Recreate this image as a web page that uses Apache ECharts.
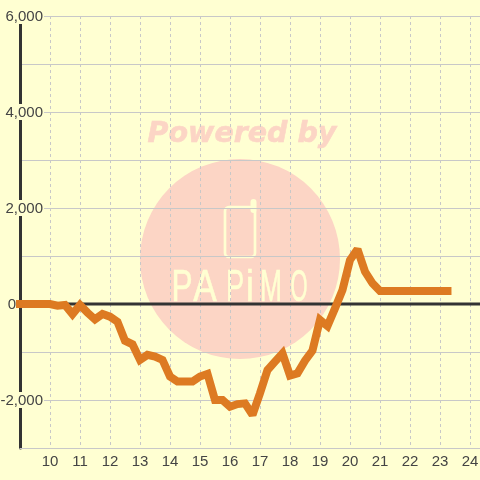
<!DOCTYPE html>
<html><head><meta charset="utf-8">
<style>html,body{margin:0;padding:0;background:#ffffd2}#c{width:480px;height:480px}</style>
<script src="https://cdn.jsdelivr.net/npm/echarts@6/dist/echarts.min.js"></script>
</head><body><div id="c"></div>
<script>
const hours = [9,9.25,9.5,9.75,10,10.25,10.5,10.75,11,11.25,11.5,11.75,12,12.25,12.5,12.75,13,13.25,13.5,13.75,14,14.25,14.5,14.75,15,15.25,15.5,15.75,16,16.25,16.5,16.75,17,17.25,17.5,17.75,18,18.25,18.5,18.75,19,19.25,19.5,19.75,20,20.25,20.5,20.75,21,21.25,21.5,21.75,22,22.25,22.5,22.75,23,23.25];
const values = [0,0,0,0,0,-35,-20,-210,-20,-180,-320,-210,-265,-370,-765,-840,-1165,-1060,-1095,-1165,-1510,-1615,-1615,-1615,-1510,-1455,-2000,-2000,-2140,-2085,-2070,-2310,-1860,-1375,-1200,-1030,-1490,-1445,-1180,-970,-330,-460,-90,290,915,1140,675,430,270,270,270,270,270,270,270,270,270,270];
const zeroLine = [[9,0],[24.334,0]];
const wmTitle = 'Powered by';
const wmLetters = ['P','A','P','i','M','O'];
const wmLayout = [[182,0.72],[205,0.8],[235,0.62],[250,0.8],[271,0.6],[299,0.5]];
const pink = '#fcd5c5', bg = '#ffffd2', grey = '#c8c8c8', dark = '#333333';

const graphic = [
  {type:'circle',z:-10,shape:{cx:240,cy:259,r:100},style:{fill:pink}},
  {type:'text',z:-9,x:242,y:135,style:{text:wmTitle,fill:pink,stroke:pink,lineWidth:0.6,font:'italic bold 28.5px "DejaVu Sans"',align:'center',verticalAlign:'middle'}},
  {type:'rect',z:-9,shape:{x:225,y:207,width:30,height:50,r:4},style:{fill:'none',stroke:bg,lineWidth:2.7}},
  {type:'line',z:-9,shape:{x1:253.5,y1:202,x2:253.5,y2:210},style:{stroke:bg,lineWidth:6,lineCap:'round'}}
].concat(wmLetters.map((t,i)=>({type:'text',z:-9,x:wmLayout[i][0],y:289,scaleX:wmLayout[i][1],
  style:{text:t,fill:bg,stroke:bg,lineWidth:0.6,font:'44px "Liberation Sans"',align:'center',verticalAlign:'middle'}})));

const chart = echarts.init(document.getElementById('c'),null,{renderer:'canvas'});
chart.setOption({
  animation:false,
  backgroundColor:bg,
  graphic:graphic,
  grid:{left:20,right:0,top:16,bottom:32,containLabel:false,outerBoundsMode:'none'},
  xAxis:{type:'value',min:9,max:24.334,interval:1,
    axisLine:{show:true,onZero:false,lineStyle:{color:grey,width:1}},
    axisTick:{show:false},
    axisLabel:{color:'#444',fontSize:15,fontFamily:'Liberation Sans',margin:6,showMinLabel:false,showMaxLabel:false,
      formatter:v=>String(v)},
    splitLine:{show:true,lineStyle:{color:grey,width:1,type:[3,3]}}},
  yAxis:{type:'value',min:-3000,max:6000,interval:1000,
    axisLine:{show:true,onZero:false,lineStyle:{color:dark,width:3}},
    axisTick:{show:false},
    axisLabel:{margin:-24,fontSize:15,fontFamily:'Liberation Sans',color:'#444',showMinLabel:false,
      formatter:v=>{
        if(v%2000!==0) return '';
        if(v===0) return '{z|0}';
        return '{a|'+v.toLocaleString('en-US')+'}';
      },
      rich:{
        a:{backgroundColor:bg,color:'#444',fontSize:15,fontFamily:'Liberation Sans',padding:[2,1,0,1],height:14},
        z:{color:'#444',fontSize:15,fontFamily:'Liberation Sans',padding:[2,28,0,0]}
      }},
    splitLine:{show:true,lineStyle:{color:grey,width:1}}},
  series:[
    {type:'line',data:zeroLine,symbol:'none',silent:true,z:2,lineStyle:{color:dark,width:3}},
    {type:'line',data:hours.map((h,i)=>[h,values[i]]),symbol:'none',z:3,
      lineStyle:{color:'#dd7a22',width:8,cap:'square',join:'miter',miterLimit:2}}
  ]
});
</script></body></html>
